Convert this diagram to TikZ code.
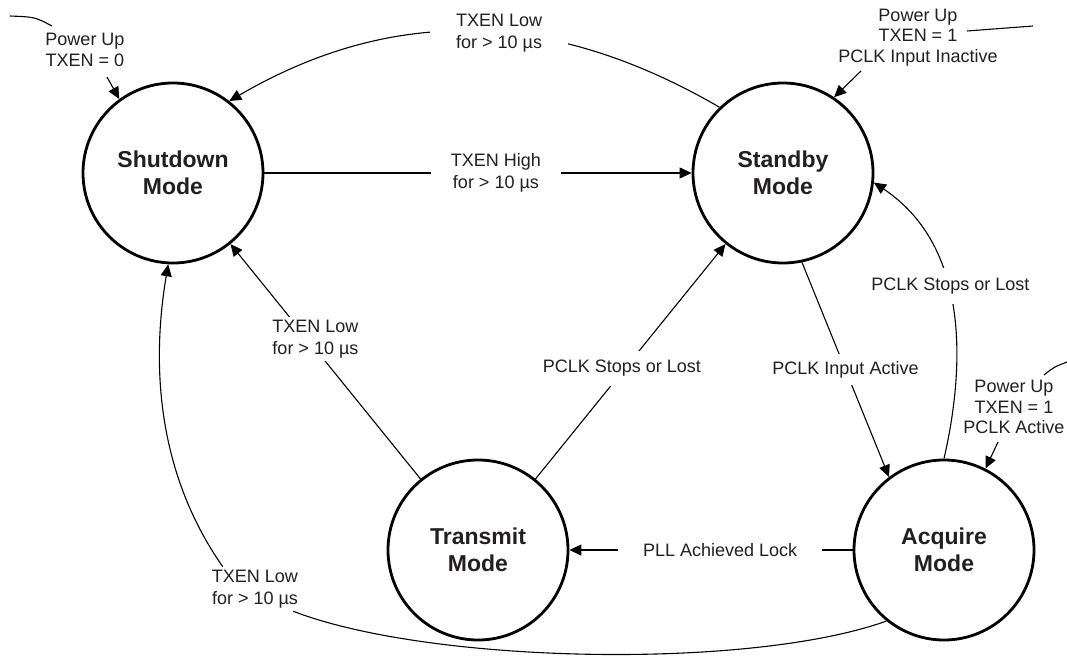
\documentclass[tikz,border=0pt]{standalone}
\usepackage{fontspec}
\setmainfont{Liberation Sans}
\usetikzlibrary{arrows.meta}
\definecolor{txt}{HTML}{231F20}
\begin{document}
\begin{tikzpicture}[x=1bp,y=-1bp,
  state/.style={circle,draw=black,line width=2.8bp,minimum size=180bp,inner sep=0pt,align=center,text=txt,font=\fontsize{23bp}{27bp}\selectfont\bfseries},
  conn/.style={line width=1.1bp,draw=black},
  arr/.style={conn,-{Triangle[length=12bp,width=11bp]}},
  lbl/.style={align=center,text=txt,font=\fontsize{18bp}{22bp}\selectfont,inner sep=3bp},
  gap/.style={lbl,fill=white},
  pwr/.style={lbl,font=\fontsize{18bp}{20.5bp}\selectfont}]
\useasboundingbox (0,0) rectangle (1067,659);
\fill[white] (0,0) rectangle (1067,659);

\node[state] (sd) at (173,173) {Shutdown\\Mode};
\node[state] (sb) at (783,173) {Standby\\Mode};
\node[state] (tx) at (478,550) {Transmit\\Mode};
\node[state] (aq) at (944,550) {Acquire\\Mode};

% Shutdown -> Standby
\draw[arr] (sd.east) -- node[gap,pos=0.542,inner xsep=20bp] {TXEN High\\for > 10 µs} (sb.west);
% Standby -> Shutdown (top arc)
\draw[arr] (sb.134) .. controls (554,11) and (396,4) .. node[gap,pos=0.45,inner xsep=26bp] {TXEN Low\\for > 10 µs} (sd.52);
% Acquire -> Transmit
\draw[arr] (aq.west) -- node[gap,pos=0.468,inner xsep=25bp] {PLL Achieved Lock} (tx.east);
% Transmit -> Shutdown
\draw[arr] (tx) -- node[gap,pos=0.595,xshift=8bp] {TXEN Low\\for > 10 µs} (sd);
% Transmit -> Standby
\draw[arr] (tx) -- node[gap,pos=0.47,xshift=-3bp,inner ysep=9bp] {PCLK Stops or Lost} (sb);
% Standby -> Acquire
\draw[arr] (sb.-78) -- node[gap,midway,inner ysep=7bp] {PCLK Input Active} (aq.127);
% Acquire -> Standby (right arc)
\draw[arr] (aq.90) .. controls (962,380) and (975,250) .. node[gap,pos=0.6,xshift=3bp,inner ysep=10bp] {PCLK Stops or Lost} (sb.-6);
% Acquire -> Shutdown (bottom arc)
\node[lbl] (lb3) at (255,589) {TXEN Low\\for > 10 µs};
\draw[conn] (aq.231) .. controls (750,670) and (430,664) .. ([xshift=-8bp]lb3.south east);
\draw[arr] ([xshift=14bp]lb3.north west) .. controls (155,470) and (152,360) .. (sd.267);

% Power up entries
\node[pwr] (pu1) at (85,50) {Power Up\\TXEN = 0};
\coordinate (c1a) at (10,16);
\coordinate (c1b) at (52,26);
\draw[conn] (c1a) .. controls (35,17) .. (c1b);
\coordinate (a1) at (107,77);
\draw[arr] (a1) -- (sd.126);

\node[pwr] (pu2) at (918,37.5) {Power Up\\TXEN = 1\\PCLK Input Inactive};
\coordinate (c2a) at (967,31);
\coordinate (c2b) at (1033,26);
\draw[conn] (c2a) .. controls (1000,28) .. (c2b);
\coordinate (a2) at (861,71);
\draw[arr] (a2) -- (sb.56);

\node[pwr] (pu3) at (1014,407) {Power Up\\TXEN = 1\\PCLK Active};
\coordinate (c3a) at (1044,375);
\coordinate (c3b) at (1067,362);
\draw[conn] (c3a) .. controls (1054,367) .. (c3b);
\coordinate (a3) at (998,442);
\draw[arr] (a3) -- (aq.63);
\end{tikzpicture}
\end{document}
